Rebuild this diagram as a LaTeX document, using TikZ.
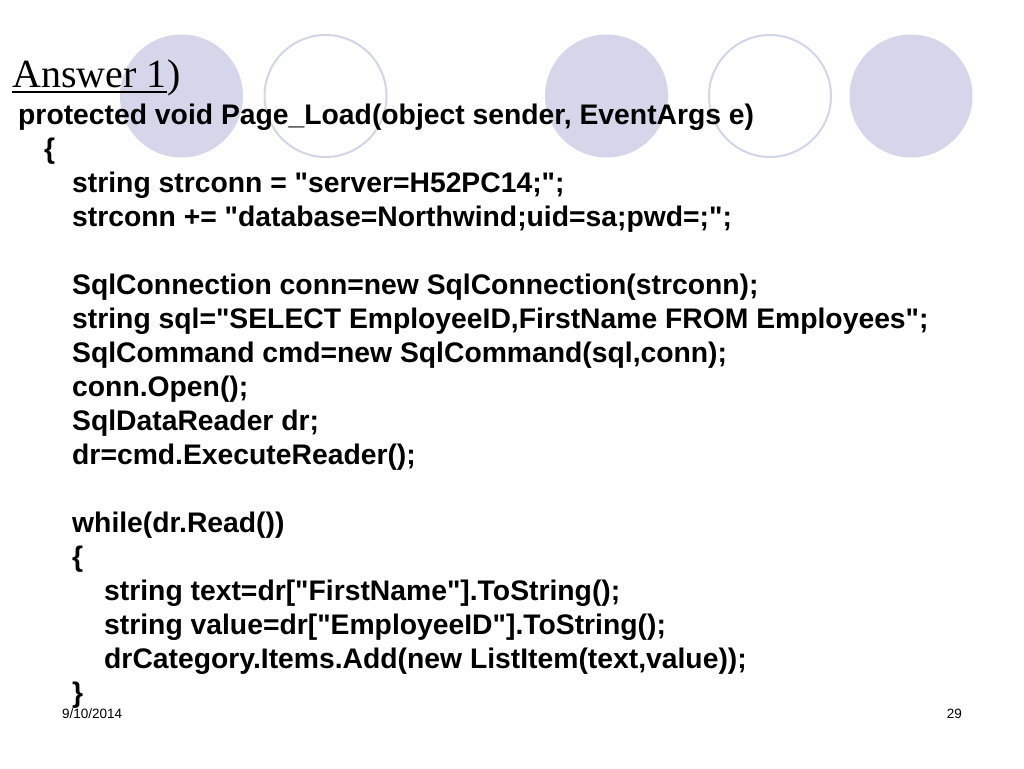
\documentclass[tikz,border=0pt]{standalone}
\usepackage{fontspec}
\setmainfont{Liberation Serif}
\newfontfamily\codefont{Liberation Sans}
\definecolor{lavender}{RGB}{214,214,235}
\definecolor{lavline}{RGB}{212,212,234}
\tikzset{
  code/.style = {anchor=base west, inner sep=0pt,
    font=\codefont\bfseries\fontsize{28.3}{34}\selectfont},
  foot/.style = {inner sep=0pt, font=\codefont\fontsize{13.5}{16}\selectfont},
  disc/.style = {fill=lavender, draw=none},
  ring/.style = {draw=lavline, line width=2pt, fill=white},
}
\begin{document}
\begin{tikzpicture}[x=1pt, y=-1pt]
  \useasboundingbox[fill=white] (0,0) rectangle (1024,768);

  % circles along the top
  \foreach \cx in {181.5, 606.5, 911}
    \fill[disc] (\cx,96) circle[radius=61.5];
  \foreach \cx in {325.5, 770}
    \draw[ring] (\cx,96) circle[radius=61];

  % title
  \node[anchor=base west, inner sep=0pt, font=\fontsize{40}{44}\selectfont]
    (ans) at (12,87) {Answer 1};
  \node[anchor=base west, inner sep=0pt, font=\fontsize{40}{44}\selectfont]
    (paren) at (ans.base east) {)};
  \draw[line width=1.2pt] ([yshift=-5pt]ans.base west) -- ([yshift=-5pt]ans.base east);

  % code
  \node[code] (head)   at (18,124) {protected void Page\_Load(object sender, EventArgs e)};
  \node[code] (open)   at (44,158) {\{};
  \node[code] (conn1)  at (72,192) {string strconn = "server=H52PC14;";};
  \node[code] (conn2)  at (72,226) {strconn += "database=Northwind;uid=sa;pwd=;";};
  \node[code] (sqlc)   at (72,294) {SqlConnection conn=new SqlConnection(strconn);};
  \node[code] (sql)    at (72,328) {string sql="SELECT EmployeeID,FirstName FROM Employees";};
  \node[code] (cmd)    at (72,362) {SqlCommand cmd=new SqlCommand(sql,conn);};
  \node[code] (open2)  at (72,396) {conn.Open();};
  \node[code] (rdr)    at (72,430) {SqlDataReader dr;};
  \node[code] (exec)   at (72,464) {dr=cmd.ExecuteReader();};
  \node[code] (while)  at (72,532) {while(dr.Read())};
  \node[code] (wopen)  at (72,566) {\{};
  \node[code] (text)   at (104,600) {string text=dr["FirstName"].ToString();};
  \node[code] (value)  at (104,634) {string value=dr["EmployeeID"].ToString();};
  \node[code] (add)    at (104,668) {drCategory.Items.Add(new ListItem(text,value));};
  \node[code] (wclose) at (72,702) {\}};

  % footer
  \node[foot, anchor=base west] (date) at (62,718) {9/10/2014};
  \node[foot, anchor=base east] (page) at (962,718) {29};
\end{tikzpicture}
\end{document}
